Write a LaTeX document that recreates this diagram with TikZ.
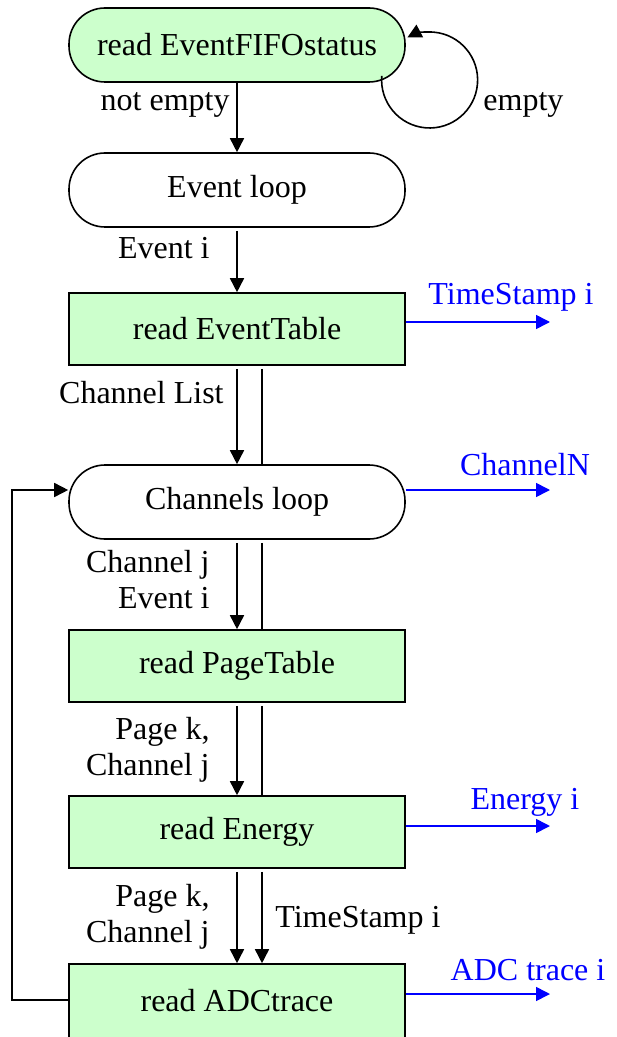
\documentclass[tikz,border=0pt]{standalone}
\usepackage{fontspec}
\setmainfont{Liberation Serif}
\usetikzlibrary{arrows.meta}
\definecolor{boxgreen}{RGB}{204,255,204}

\begin{document}
\begin{tikzpicture}[x=0.5pt, y=-0.5pt, font=\fontsize{16}{18}\selectfont,
  box/.style={draw, line width=0.8pt, fill=boxgreen, minimum width=168pt, minimum height=36pt, inner sep=0pt},
  loopbox/.style={box, rounded corners=18pt, fill=white},
  arr/.style={line width=0.8pt, -{Triangle[length=7pt, width=7pt]}},
  outarr/.style={arr, blue},
  outlbl/.style={text=blue, inner sep=1pt}]
  \useasboundingbox (0,0) rectangle (616,1037);

  % main column
  \node[box, rounded corners=18pt, minimum height=37pt] (fifo) at (237,45) {read EventFIFOstatus};
  \node[loopbox, minimum height=37pt] (evloop) at (237,190) {Event loop};
  \node[box] (evtable) at (237,329) {read EventTable};
  \node[loopbox, minimum height=37pt] (chloop) at (237,502) {Channels loop};
  \node[box] (pagetable) at (237,666) {read PageTable};
  \node[box] (energy) at (237,832) {read Energy};
  \node[box, minimum height=42pt] (adc) at (237,1006) {\raisebox{6pt}{read ADCtrace}};

  % flow
  \draw[arr] (fifo) -- (evloop);
  \draw[arr, shorten <=1.5pt] (evloop) -- (evtable);
  \foreach \a/\b in {evtable/chloop, chloop/pagetable, pagetable/energy} {
    \draw[arr, shorten <=1.5pt] (\a) -- (\b);
    \draw[line width=0.8pt, shorten <=1.5pt] ([xshift=12.5pt]\a.south) -- ([xshift=12.5pt]\b.north);
  }
  \draw[arr, shorten <=1.5pt] (energy) -- (adc);
  \draw[arr, shorten <=1.5pt] ([xshift=12.5pt]energy.south) -- ([xshift=12.5pt]adc.north);

  % empty loop
  \draw[arr] (fifo.south east) ++(-24,-7) arc[start angle=185, end angle=-117.6, radius=48];

  % back to channels loop
  \coordinate (fbcorner) at (12,490);
  \draw[arr] (adc.west |- 0,1000) -| (fbcorner) -- (chloop.west |- fbcorner);

  % labels
  \node[anchor=east, inner sep=1pt] (lblnotempty) at (232,105) {not empty};
  \node[anchor=west, inner sep=1pt] (lblempty) at (481,105) {empty};
  \node[anchor=east, inner sep=1pt] (lblevent) at (212,248) {Event i};
  \node[anchor=east, inner sep=1pt] (lblchlist) at (226,393) {Channel List};
  \node[anchor=east, align=right, inner sep=1pt] (lblchev) at (212,580) {Channel j\\Event i};
  \node[anchor=east, align=right, inner sep=1pt] (lblpage) at (212,750) {Page k,\\Channel j};
  \node[anchor=east, align=right, inner sep=1pt] (lblpagetwo) at (212,917) {Page k,\\Channel j};
  \node[anchor=west, inner sep=1pt] (lblts) at (273,920) {TimeStamp i};

  % outputs
  \coordinate (tsend) at (550,322);
  \coordinate (chnend) at (550,490);
  \coordinate (enend) at (550,826);
  \coordinate (adcend) at (550,994);
  \draw[outarr] (evtable.east |- tsend) -- (tsend);
  \draw[outarr] (chloop.east |- chnend) -- (chnend);
  \draw[outarr] (energy.east |- enend) -- (enend);
  \draw[outarr] (adc.east |- adcend) -- (adcend);
  \node[outlbl] (tslbl) at (511,297) {TimeStamp i};
  \node[outlbl] (chnlbl) at (525,465) {ChannelN};
  \node[outlbl] (enlbl) at (525,802) {Energy i};
  \node[outlbl] (adclbl) at (528,970) {ADC trace i};
\end{tikzpicture}
\end{document}
